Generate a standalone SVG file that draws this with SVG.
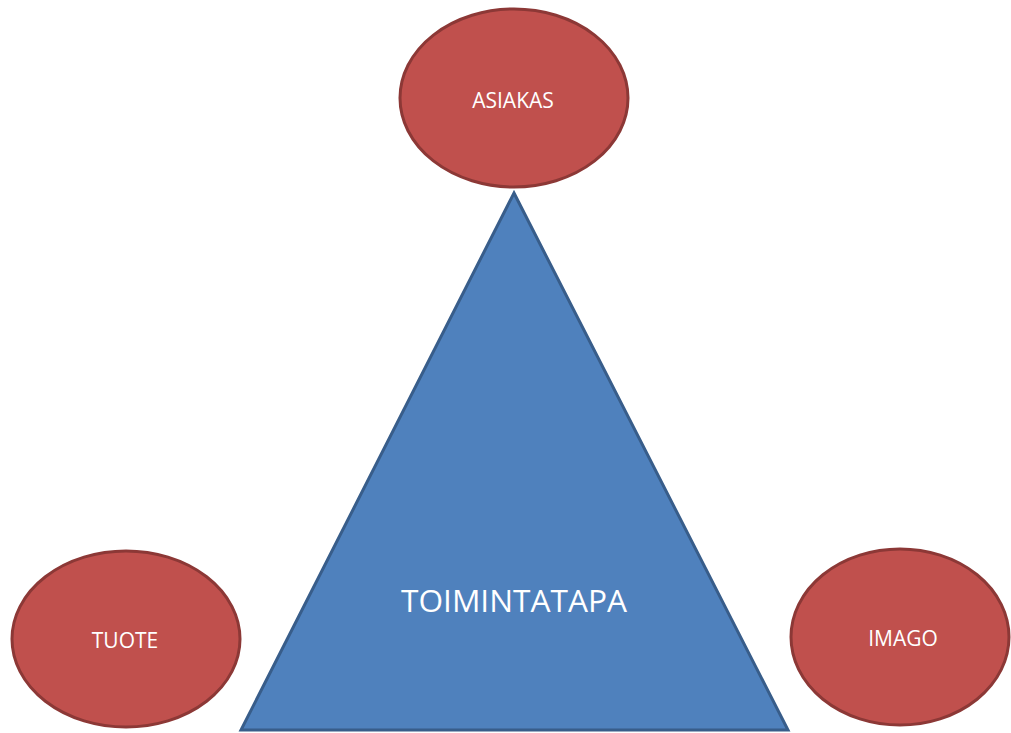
<svg xmlns="http://www.w3.org/2000/svg" width="1011" height="733" viewBox="0 0 1011 733">
<style>
.oval{fill:#C0504D;stroke:#8C3836;stroke-width:3}
.tri{fill:#4F81BD;stroke:#385D8A;stroke-width:3}
.lbl{fill:#ffffff;font-family:"Open Sans","Liberation Sans",sans-serif;text-anchor:middle}
</style>
<rect width="1011" height="733" fill="#ffffff"/>
<g id="toimintatapa">
<polygon class="tri" points="514,193 788,730 241,730"/>
<text class="lbl" x="514" y="612" font-size="31" textLength="226" lengthAdjust="spacingAndGlyphs">TOIMINTATAPA</text>
</g>
<g id="asiakas">
<ellipse class="oval" cx="514" cy="98" rx="114" ry="89"/>
<text class="lbl" x="513" y="108" font-size="21">ASIAKAS</text>
</g>
<g id="tuote">
<ellipse class="oval" cx="126" cy="639" rx="114" ry="88"/>
<text class="lbl" x="125" y="648" font-size="21">TUOTE</text>
</g>
<g id="imago">
<ellipse class="oval" cx="900" cy="637" rx="109" ry="88"/>
<text class="lbl" x="903" y="646" font-size="21">IMAGO</text>
</g>
<g id="connectors"></g>
</svg>
